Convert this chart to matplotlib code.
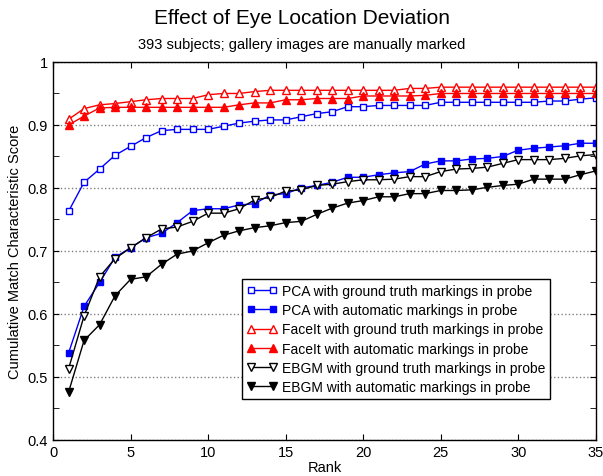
import matplotlib
matplotlib.use("Agg")
import matplotlib.pyplot as plt
from matplotlib.ticker import MultipleLocator

plt.rcParams['font.family'] = ['Liberation Sans', 'DejaVu Sans']

ranks = list(range(1, 36))

pca_gt = [0.763, 0.809, 0.830, 0.852, 0.866, 0.880, 0.891, 0.893, 0.893, 0.893,
          0.898, 0.903, 0.906, 0.908, 0.908, 0.913, 0.918, 0.921, 0.929, 0.929,
          0.931, 0.931, 0.931, 0.931, 0.936, 0.936, 0.936, 0.936, 0.936, 0.936,
          0.936, 0.938, 0.938, 0.941, 0.943]
pca_auto = [0.538, 0.612, 0.650, 0.690, 0.705, 0.721, 0.728, 0.745, 0.764, 0.767,
            0.767, 0.773, 0.775, 0.789, 0.791, 0.800, 0.804, 0.809, 0.817, 0.817,
            0.821, 0.824, 0.826, 0.838, 0.843, 0.843, 0.846, 0.847, 0.850, 0.860,
            0.863, 0.865, 0.867, 0.871, 0.871]
faceit_gt = [0.909, 0.926, 0.932, 0.934, 0.937, 0.940, 0.942, 0.942, 0.942, 0.948,
             0.950, 0.950, 0.953, 0.955, 0.955, 0.955, 0.955, 0.955, 0.955, 0.955,
             0.955, 0.955, 0.958, 0.958, 0.960, 0.960, 0.960, 0.960, 0.960, 0.960,
             0.960, 0.960, 0.960, 0.960, 0.960]
faceit_auto = [0.900, 0.914, 0.927, 0.928, 0.928, 0.928, 0.928, 0.928, 0.928, 0.928,
               0.928, 0.932, 0.935, 0.935, 0.940, 0.940, 0.942, 0.942, 0.942, 0.946,
               0.946, 0.946, 0.946, 0.947, 0.950, 0.950, 0.950, 0.950, 0.950, 0.950,
               0.950, 0.950, 0.950, 0.950, 0.950]
ebgm_gt = [0.513, 0.597, 0.659, 0.688, 0.705, 0.721, 0.735, 0.738, 0.747, 0.760,
           0.760, 0.767, 0.781, 0.785, 0.795, 0.797, 0.804, 0.806, 0.810, 0.813,
           0.813, 0.814, 0.818, 0.818, 0.826, 0.830, 0.831, 0.833, 0.839, 0.845,
           0.845, 0.845, 0.847, 0.851, 0.853]
ebgm_auto = [0.476, 0.558, 0.583, 0.629, 0.655, 0.659, 0.679, 0.695, 0.700, 0.713,
             0.725, 0.732, 0.737, 0.740, 0.745, 0.747, 0.758, 0.768, 0.776, 0.780,
             0.786, 0.786, 0.791, 0.791, 0.796, 0.796, 0.797, 0.801, 0.804, 0.806,
             0.814, 0.814, 0.814, 0.821, 0.827]

fig = plt.figure(figsize=(6.03, 4.77), dpi=100)
ax = fig.add_axes([0.088, 0.0755, 0.9, 0.7925])

sq = 4.6
tri = 5.2
ax.plot(ranks, pca_gt, color="#0000ff", marker="s", mfc="white", ms=sq, lw=1,
        label="PCA with ground truth markings in probe")
ax.plot(ranks, pca_auto, color="#0000ff", marker="s", mfc="#0000ff", ms=sq, lw=1,
        label="PCA with automatic markings in probe")
ax.plot(ranks, faceit_gt, color="#ff0000", marker="^", mfc="white", ms=tri, lw=1,
        label="FaceIt with ground truth markings in probe")
ax.plot(ranks, faceit_auto, color="#ff0000", marker="^", mfc="#ff0000", ms=tri, lw=1,
        label="FaceIt with automatic markings in probe")
ax.plot(ranks, ebgm_gt, color="black", marker="v", mfc="white", ms=tri, lw=1,
        label="EBGM with ground truth markings in probe")
ax.plot(ranks, ebgm_auto, color="black", marker="v", mfc="black", ms=tri, lw=1,
        label="EBGM with automatic markings in probe")

ax.set_xlim(0, 35)
ax.set_ylim(0.4, 1.0)
ax.set_xticks(range(0, 36, 5))
ax.set_yticks([0.4, 0.5, 0.6, 0.7, 0.8, 0.9, 1.0])
ax.set_yticklabels(["0.4", "0.5", "0.6", "0.7", "0.8", "0.9", "1"])
ax.yaxis.set_minor_locator(MultipleLocator(0.05))
ax.tick_params(which="both", direction="in", top=True, right=True, labelsize=10.5)
ax.tick_params(which="major", length=4)
ax.tick_params(which="minor", length=4)
ax.grid(True, axis="y", linestyle=":", color="#808080", linewidth=1)
for s in ax.spines.values():
    s.set_linewidth(1)

ax.set_xlabel("Rank", fontsize=10.5, labelpad=1)
ax.set_ylabel("Cumulative Match Characteristic Score", fontsize=10.5, labelpad=4)

leg = ax.legend(loc="upper left", bbox_to_anchor=(0.3475, 0.426), numpoints=2,
                fontsize=10, fancybox=False, framealpha=1, edgecolor="black",
                handlelength=2.2, handletextpad=0.35, borderpad=0.35,
                labelspacing=0.38, borderaxespad=0)
leg.get_frame().set_linewidth(1)

fig.text(0.5, 0.962, "Effect of Eye Location Deviation", ha="center", va="center", fontsize=15)
fig.text(0.5, 0.905, "393 subjects; gallery images are manually marked", ha="center",
         va="center", fontsize=10.5)

fig.savefig("out.png", dpi=100)
